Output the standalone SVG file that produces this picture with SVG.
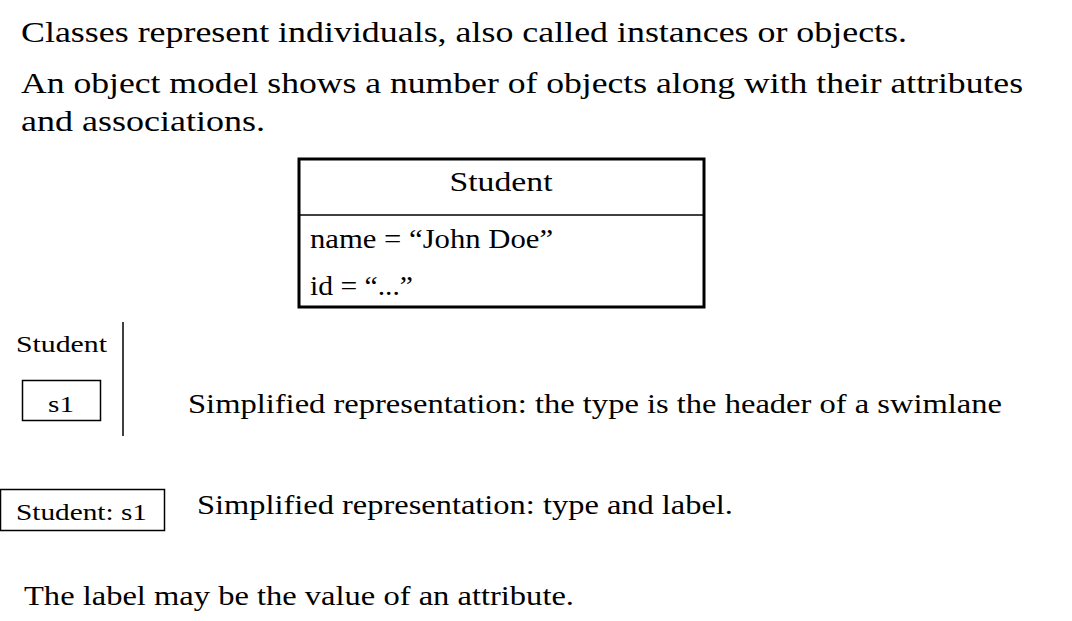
<svg xmlns="http://www.w3.org/2000/svg" width="1072" height="621" viewBox="0 0 1072 621">
<style>
text{font-family:"Liberation Serif","DejaVu Serif",serif;fill:#000}
.big{font-size:30px}
.mid{font-size:28px}
.sm{font-size:24px}
.box{fill:#fff;stroke:#000}
</style>
<rect width="1072" height="621" fill="#fff"/>
<g id="intro">
<text class="big" x="21" y="42" textLength="886" lengthAdjust="spacingAndGlyphs">Classes represent individuals, also called instances or objects.</text>
<text class="big" x="21" y="93" textLength="1002" lengthAdjust="spacingAndGlyphs">An object model shows a number of objects along with their attributes</text>
<text class="big" x="21" y="131" textLength="244" lengthAdjust="spacingAndGlyphs">and associations.</text>
</g>
<g id="student-object">
<rect class="box" x="299" y="159" width="405" height="148" stroke-width="3"/>
<line x1="299" y1="215" x2="704" y2="215" stroke="#000" stroke-width="1.5"/>
<text class="mid" x="501" y="191" text-anchor="middle" textLength="103" lengthAdjust="spacingAndGlyphs">Student</text>
<text class="mid" x="310" y="248" textLength="243" lengthAdjust="spacingAndGlyphs">name = “John Doe”</text>
<text class="mid" x="310" y="295" textLength="103" lengthAdjust="spacingAndGlyphs">id = “...”</text>
</g>
<g id="swimlane">
<text class="sm" x="16" y="352" textLength="91" lengthAdjust="spacingAndGlyphs">Student</text>
<line x1="123" y1="322" x2="123" y2="436" stroke="#000" stroke-width="1.5"/>
</g>
<g id="s1">
<rect class="box" x="22.5" y="380.5" width="78" height="40" stroke-width="1.5"/>
<text class="sm" x="61" y="412" text-anchor="middle" textLength="26" lengthAdjust="spacingAndGlyphs">s1</text>
</g>
<g id="swimlane-note">
<text class="mid" x="188" y="413" textLength="814" lengthAdjust="spacingAndGlyphs">Simplified representation: the type is the header of a swimlane</text>
</g>
<g id="student-s1">
<rect class="box" x="0.5" y="489.5" width="164" height="41" stroke-width="1.5"/>
<text class="sm" x="16" y="520" textLength="131" lengthAdjust="spacingAndGlyphs">Student: s1</text>
</g>
<g id="label-note">
<text class="mid" x="197" y="514" textLength="536" lengthAdjust="spacingAndGlyphs">Simplified representation: type and label.</text>
<text class="mid" x="24" y="605" textLength="550" lengthAdjust="spacingAndGlyphs">The label may be the value of an attribute.</text>
</g>
<g id="connectors"></g>
</svg>
